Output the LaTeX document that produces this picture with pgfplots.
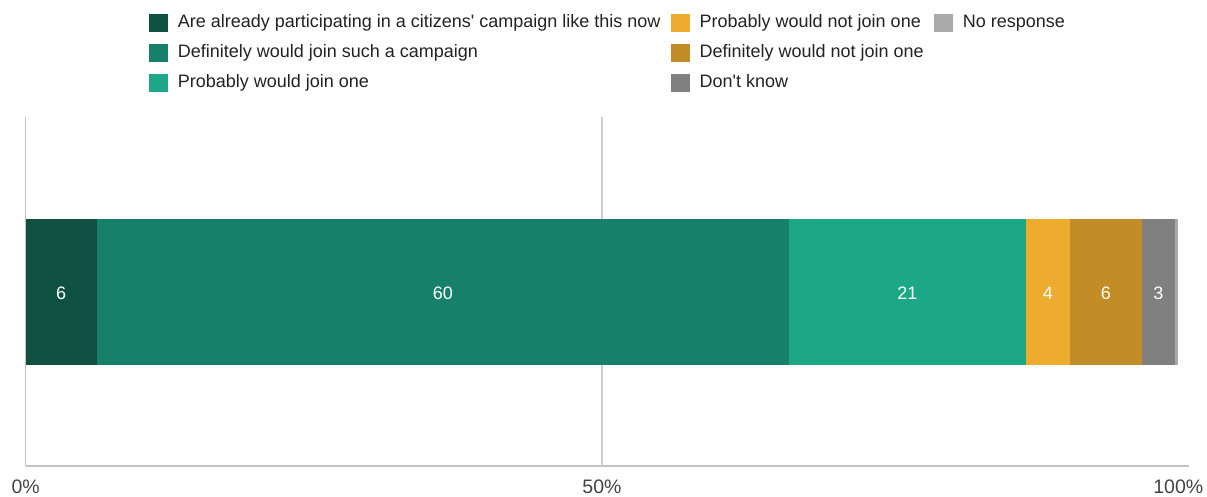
\documentclass[border=0pt]{standalone}
\usepackage{pgfplots}
\pgfplotsset{compat=1.18}
\usepackage{fontspec}
\setmainfont{Liberation Sans}
\definecolor{cA}{HTML}{0F5141}
\definecolor{cB}{HTML}{17806A}
\definecolor{cC}{HTML}{1CA886}
\definecolor{cD}{HTML}{EDAC2D}
\definecolor{cE}{HTML}{C28C27}
\definecolor{cF}{HTML}{808080}
\definecolor{cG}{HTML}{AAAAAA}
\definecolor{axisgray}{HTML}{C4C4C4}
\definecolor{gridgray}{HTML}{CCCCCC}
\definecolor{tickgray}{HTML}{444444}
\definecolor{legendtext}{HTML}{222222}
\begin{document}
\begin{tikzpicture}
\path[use as bounding box] (-25.7bp,-30.7bp) rectangle (1181.3bp,466.3bp);
\begin{axis}[
  at={(0,0)}, anchor=south west,
  scale only axis, width=1163.3bp, height=349bp,
  xmin=0, xmax=100.93, ymin=0, ymax=1,
  xbar stacked, bar width=145.7bp,
  axis x line=bottom, axis y line=left,
  x axis line style={-, color=axisgray, line width=2bp},
  y axis line style={-, color=axisgray, line width=1.5bp},
  ytick=\empty,
  xtick={0,50,100}, xticklabels={0\%,50\%,100\%},
  major tick length=0pt,
  extra x ticks={50}, extra x tick labels={},
  extra x tick style={grid=major, major grid style={color=gridgray, line width=1.5bp}},
  xticklabel style={font=\fontsize{19.5bp}{22bp}\selectfont, text=tickgray, anchor=center, yshift=-20bp},
  legend cell align=left,
  transpose legend,
  legend columns=3,
  legend image code/.code={\fill[#1,draw=none] (0bp,-9bp) rectangle (19bp,9bp);},
  legend style={at={(0.10625,1.295)}, anchor=north west, draw=none, fill=none,
    inner sep=0pt, outer sep=0pt, row sep=11.8bp, column sep=0pt,
    font=\fontsize{18bp}{21bp}\selectfont, text=legendtext,
    nodes={inner sep=0pt, text height=13bp, text depth=4bp},
    /tikz/every odd column/.append style={column sep=9.6bp},
    /tikz/every even column/.append style={column sep=10.5bp}},
]
\addplot[fill=cA, draw=none] coordinates {(6.16,0.5)};
\addlegendentry{Are already participating in a citizens\textquotesingle\ campaign like this now}
\addplot[fill=cB, draw=none] coordinates {(60.06,0.5)};
\addlegendentry{Definitely would join such a campaign}
\addplot[fill=cC, draw=none] coordinates {(20.57,0.5)};
\addlegendentry{Probably would join one}
\addplot[fill=cD, draw=none] coordinates {(3.81,0.5)};
\addlegendentry{Probably would not join one}
\addplot[fill=cE, draw=none] coordinates {(6.23,0.5)};
\addlegendentry{Definitely would not join one}
\addplot[fill=cF, draw=none] coordinates {(2.88,0.5)};
\addlegendentry{Don\textquotesingle t know}
\addplot[fill=cG, draw=none] coordinates {(0.29,0.5)};
\addlegendentry{No response}
\addlegendimage{empty legend}\addlegendentry{}
\addlegendimage{empty legend}\addlegendentry{}
\end{axis}
\begin{axis}[
  at={(0,0)}, anchor=south west,
  scale only axis, width=1163.3bp, height=349bp,
  xmin=0, xmax=100.93, ymin=0, ymax=1,
  hide axis,
  point meta=explicit symbolic,
  nodes near coords,
  nodes near coords style={anchor=center, text=white, font=\fontsize{18bp}{21bp}\selectfont, yshift=-1.2bp},
]
\addplot[draw=none, mark=none] table[meta=label] {
x y label
3.08 0.5 6
36.19 0.5 60
76.505 0.5 21
88.695 0.5 4
93.715 0.5 6
98.27 0.5 3
};
\end{axis}
\end{tikzpicture}
\end{document}
